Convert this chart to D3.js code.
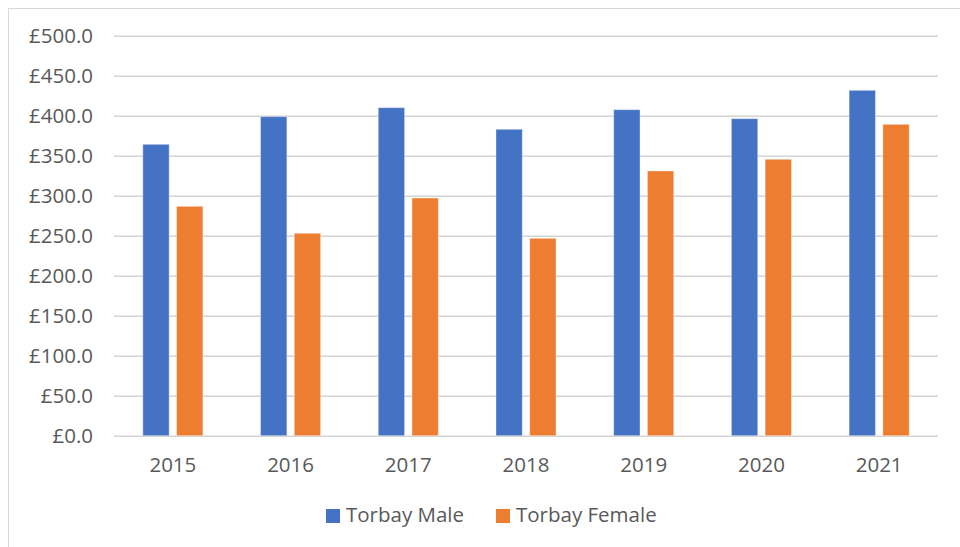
<!DOCTYPE html>
<html>
<head>
<meta charset="utf-8">
<script src="https://cdn.jsdelivr.net/npm/d3@7"></script>
<style>
  body { margin: 0; background: #fff; }
  text { font-family: 'Open Sans', 'Noto Sans', sans-serif; fill: #595959; }
</style>
</head>
<body>
<div id="chart"></div>
<script>

// chart data
var years = ['2015', '2016', '2017', '2018', '2019', '2020', '2021'];
var seriesNames = ['Torbay Male', 'Torbay Female'];
var maleValues = [364.2, 398.8, 410.0, 383.0, 407.5, 396.3, 431.7];
var femaleValues = [286.7, 253.0, 297.1, 246.7, 330.9, 345.5, 389.2];
var yTicks = [0, 50, 100, 150, 200, 250, 300, 350, 400, 450, 500];
var colors = ['#4472C4', '#ED7D31'];

var svgWidth = 960;
var svgHeight = 547;

var margin = {
  top: 35.7,
  right: 22,
  bottom: 111.3,
  left: 114
};

var width = svgWidth - margin.left - margin.right;
var height = svgHeight - margin.top - margin.bottom;

var svg = d3.select('#chart')
  .append('svg')
  .attr('width', svgWidth)
  .attr('height', svgHeight);

// outer chart border (cropped on right and bottom)
svg.append('rect')
  .attr('x', 8.5)
  .attr('y', 8.5)
  .attr('width', svgWidth)
  .attr('height', svgHeight)
  .attr('fill', 'none')
  .attr('stroke', '#d9d9d9')
  .attr('stroke-width', 1);

var chartGroup = svg.append('g')
  .attr('transform', `translate(${margin.left}, ${margin.top})`);

// scales
var x0 = d3.scaleBand()
  .domain(years)
  .range([0, width])
  .paddingInner(0.49)
  .paddingOuter(0.245);

var x1 = d3.scaleBand()
  .domain(seriesNames)
  .range([0, x0.bandwidth()])
  .paddingInner(0.22);

var yLinearScale = d3.scaleLinear()
  .domain([0, 500])
  .range([height, 0]);

// y axis with gridlines
var leftAxis = d3.axisLeft(yLinearScale)
  .tickValues(yTicks)
  .tickSize(-width)
  .tickPadding(21)
  .tickFormat(d => '£' + d.toFixed(1));

var yAxis = chartGroup.append('g')
  .call(leftAxis);

yAxis.select('.domain').remove();
yAxis.selectAll('line')
  .attr('stroke', '#d4d4d4')
  .attr('stroke-width', 1.6);
yAxis.selectAll('text')
  .attr('font-size', '20.5px');

// x axis
var bottomAxis = d3.axisBottom(x0)
  .tickSize(0)
  .tickPadding(22);

var xAxis = chartGroup.append('g')
  .attr('transform', `translate(0, ${height})`)
  .call(bottomAxis);

xAxis.select('.domain').remove();
xAxis.selectAll('text')
  .attr('font-size', '20.5px');

// bars
var tableData = years.map(function(year, i) {
  return { year: year, values: [maleValues[i], femaleValues[i]] };
});

var groups = chartGroup.selectAll('.yeargroup')
  .data(tableData)
  .enter()
  .append('g')
  .classed('yeargroup', true)
  .attr('transform', d => `translate(${x0(d.year)}, 0)`);

groups.selectAll('rect')
  .data(d => d.values.map((v, i) => ({ name: seriesNames[i], value: v, color: colors[i] })))
  .enter()
  .append('rect')
  .attr('x', d => x1(d.name))
  .attr('y', d => yLinearScale(d.value))
  .attr('width', x1.bandwidth())
  .attr('height', d => height - yLinearScale(d.value))
  .attr('fill', d => d.color)
  .attr('stroke', '#ffffff')
  .attr('stroke-opacity', 0.35)
  .attr('stroke-width', 1);

// legend
var legendX = [326, 496];
var legend = svg.selectAll('.legenditem')
  .data(seriesNames)
  .enter()
  .append('g')
  .classed('legenditem', true)
  .attr('transform', (d, i) => `translate(${legendX[i]}, 509)`);

legend.append('rect')
  .attr('width', 14)
  .attr('height', 14)
  .attr('fill', (d, i) => colors[i]);

legend.append('text')
  .attr('x', 20)
  .attr('y', 13)
  .attr('font-size', '20.5px')
  .text(d => d);

</script>
</body>
</html>
